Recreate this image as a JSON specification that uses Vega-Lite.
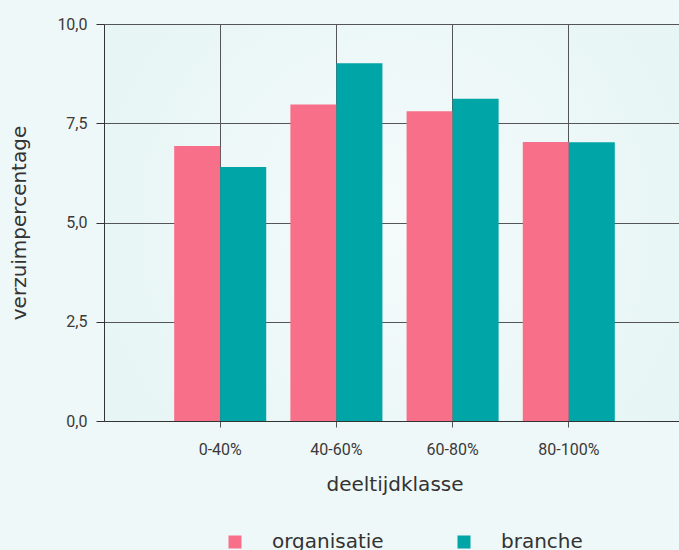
{
  "$schema": "https://vega.github.io/schema/vega-lite/v6.json",
  "width": 581,
  "height": 397,
  "autosize": "none",
  "padding": {"left": 104, "top": 24, "right": 0, "bottom": 129},
  "background": "#eff8f8",
  "data": {
    "values": [
      {"klasse": "0-40%", "groep": "organisatie", "pct": 6.93},
      {"klasse": "0-40%", "groep": "branche", "pct": 6.4},
      {"klasse": "40-60%", "groep": "organisatie", "pct": 7.97},
      {"klasse": "40-60%", "groep": "branche", "pct": 9.01},
      {"klasse": "60-80%", "groep": "organisatie", "pct": 7.8},
      {"klasse": "60-80%", "groep": "branche", "pct": 8.12},
      {"klasse": "80-100%", "groep": "organisatie", "pct": 7.03},
      {"klasse": "80-100%", "groep": "branche", "pct": 7.02}
    ]
  },
  "mark": {"type": "bar"},
  "encoding": {
    "x": {
      "field": "klasse",
      "type": "nominal",
      "sort": ["0-40%", "40-60%", "60-80%", "80-100%"],
      "scale": {"paddingInner": 0.208, "paddingOuter": 0.604},
      "axis": {
        "title": "deeltijdklasse",
        "labelAngle": 0,
        "grid": true,
        "gridColor": "#555555",
        "gridOpacity": 1,
        "tickColor": "#555555",
        "tickSize": 6,
        "labelPadding": 14,
        "titlePadding": 17,
        "domainColor": "#333333"
      }
    },
    "xOffset": {
      "field": "groep",
      "sort": ["organisatie", "branche"],
      "scale": {"paddingInner": 0, "paddingOuter": 0}
    },
    "y": {
      "field": "pct",
      "type": "quantitative",
      "scale": {"domain": [0, 10]},
      "axis": {
        "title": "verzuimpercentage",
        "values": [0, 2.5, 5, 7.5, 10],
        "format": ".1f",
        "labelExpr": "replace(datum.label, '.', ',')",
        "grid": true,
        "gridColor": "#555555",
        "gridOpacity": 1,
        "tickColor": "#333333",
        "tickSize": 8,
        "labelPadding": 9,
        "titlePadding": 27,
        "domainColor": "#333333"
      }
    },
    "color": {
      "field": "groep",
      "type": "nominal",
      "sort": ["organisatie", "branche"],
      "scale": {"domain": ["organisatie", "branche"], "range": ["#f76f89", "#00a5a7"]},
      "legend": {
        "title": null,
        "orient": "none",
        "direction": "horizontal",
        "legendX": 121,
        "legendY": 508,
        "symbolType": "square",
        "symbolSize": 169,
        "symbolOpacity": 1,
        "symbolStrokeWidth": 0,
        "labelFont": "DejaVu Sans",
        "labelFontSize": 20,
        "labelOffset": 27,
        "columnPadding": 70,
        "padding": 0
      }
    }
  },
  "config": {
    "font": "DejaVu Sans",
    "view": {
      "stroke": null,
      "fill": {
        "gradient": "radial",
        "x1": 0.5, "y1": 0.5, "r1": 0,
        "x2": 0.5, "y2": 0.5, "r2": 0.75,
        "stops": [
          {"offset": 0, "color": "#f5fbfb"},
          {"offset": 1, "color": "#e2f3f3"}
        ]
      }
    },
    "axis": {
      "labelFont": "Roboto",
      "labelFontSize": 16,
      "labelColor": "#3a3a3a",
      "titleFont": "DejaVu Sans",
      "titleFontSize": 20,
      "titleFontWeight": "normal",
      "titleColor": "#333333"
    },
    "legend": {"labelColor": "#333333"}
  }
}
